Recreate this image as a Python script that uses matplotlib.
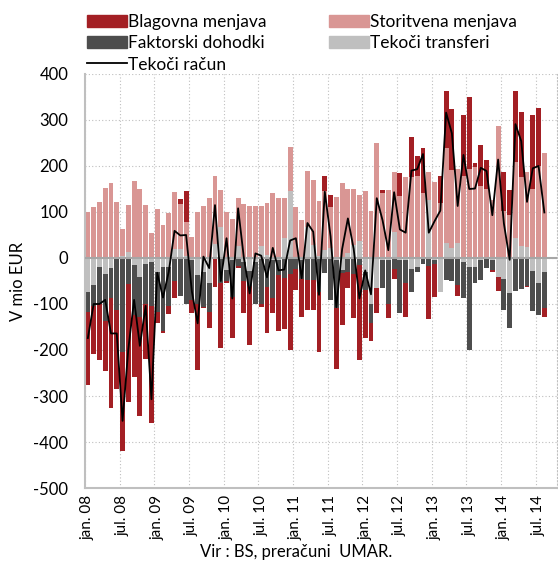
import numpy as np
import matplotlib
matplotlib.use("Agg")
import matplotlib.pyplot as plt
from matplotlib.patches import Patch
from matplotlib.lines import Line2D

plt.rcParams['font.family'] = ['Lato', 'DejaVu Sans']
plt.rcParams['axes.unicode_minus'] = False

# mesečni podatki, jan. 2008 - avg. 2014 (mio EUR)
months = []
for yr in range(8, 15):
    for m in ['jan.', 'feb.', 'mar.', 'apr.', 'maj', 'jun.', 'jul.', 'avg.', 'sep.', 'okt.', 'nov.', 'dec.']:
        months.append(m + ' %02d' % yr)
months = months[:80]

transferi = [-75, -59, -19, -35, -22, -3, 5, 12, -15, -41, -14, -8,
             -30, -20, -20, 20, 20, 5, -5, -37, -30, -55, 30, 68,
             -26, -5, 26, -8, -28, -8, 26, 6, -4, -5, 44, 146,
             -3, -5, 68, 28, 5, 17, 21, -5, -26, 10, 28, 37,
             -30, -99, -66, -5, -5, 57, -4, -4, -23, -19, 0, 126,
             -5, -73, 32, 21, 33, -8, -19, -19, -5, -3, -5, -41,
             -46, -77, 43, 26, 23, -28, -55, -30]
faktorski = [-43, -45, -81, -101, -65, -111, -205, -57, -110, -88, -86, -96,
             -88, -138, -84, -49, -82, -99, -86, -62, -76, -62, 0, -55,
             -25, -79, -17, -43, -32, -91, -99, -62, -84, -32, -44, -35,
             -22, -41, -48, -48, -73, -33, -91, -104, -7, -30, -35, -15,
             -40, -43, 0, -61, -94, -25, -116, -51, -52, -11, -13, -17,
             -7, -2, -48, -51, -59, -80, -180, -35, -43, -19, -21, 0,
             -67, -76, -72, -67, -61, -87, -69, -78]
storitvena = [101, 110, 122, 152, 162, 122, 58, 104, 168, 150, 116, 54,
              107, 72, 97, 123, 97, 74, 46, 99, 114, 130, 148, 80,
              99, 84, 104, 117, 112, 112, 86, 114, 142, 130, 86, 95,
              110, 83, 122, 142, 119, 129, 89, 133, 164, 141, 123, 99,
              146, 102, 251, 141, 148, 131, 135, 175, 177, 178, 141, 61,
              166, 120, 208, 170, 160, 179, 193, 197, 157, 151, 125, 286,
              102, 93, 166, 149, 164, 149, 199, 228]
blagovna = [-158, -105, -121, -109, -238, -171, -214, -257, -133, -214, -120, -255,
            -24, -5, -18, -37, 11, 66, -28, -144, -3, -36, -62, -141,
            -3, -91, -5, -68, -129, -1, -7, -100, -31, -122, -111, -166,
            -45, -82, -65, -64, -131, 32, 28, -133, -113, -36, -96, -207,
            -105, -38, -54, 7, -32, -21, 49, -73, 87, 44, 98, -116,
            -72, 58, 122, 132, -24, 132, 156, 9, 89, 62, -4, -31,
            86, 55, 153, 142, -3, 162, 126, -20]
tekoci_racun = [-174, -100, -100, -91, -164, -164, -354, -198, -91, -191, -104, -307,
                -32, -86, -30, 59, 49, 50, -73, -142, 3, -22, 115, -50,
                43, -88, 108, 0, -77, 10, 5, -42, 22, -27, -25, 38,
                43, -44, 76, 57, -80, 144, 47, -107, 19, 86, 20, -88,
                -27, -79, 130, 82, 17, 143, 62, 55, 190, 193, 226, 55,
                80, 103, 316, 271, 113, 224, 150, 151, 196, 189, 93, 214,
                75, -4, 291, 254, 122, 195, 200, 99]

c_blag = '#a31f24'
c_stor = '#d99694'
c_fakt = '#4d4d4d'
c_tran = '#bfbfbf'

fig = plt.figure(figsize=(5.58, 5.63), dpi=100)
ax = fig.add_axes([0.1523, 0.1332, 0.846, 0.7354])

x = np.arange(len(months))
pos_bottom = np.zeros(len(x))
neg_bottom = np.zeros(len(x))
# vrstni red zlaganja od ničle navzven
for vals, col in [(transferi, c_tran), (faktorski, c_fakt), (storitvena, c_stor), (blagovna, c_blag)]:
    v = np.array(vals, dtype=float)
    p = np.clip(v, 0, None)
    n = np.clip(v, None, 0)
    ax.bar(x, p, bottom=pos_bottom, width=0.86, color=col, zorder=2)
    ax.bar(x, n, bottom=neg_bottom, width=0.86, color=col, zorder=2)
    pos_bottom += p
    neg_bottom += n

ax.plot(x, tekoci_racun, color='black', lw=1.3, zorder=4)
ax.axhline(0, color='#a6a6a6', lw=1.5, zorder=3)

ax.set_ylim(-500, 400)
ax.set_yticks(np.arange(-500, 401, 100))
ax.set_xlim(-0.5, 81.2)
tick_pos = np.arange(0, 80, 6)
ax.set_xticks(tick_pos)
ax.set_xticklabels([months[i] for i in tick_pos], rotation=90)
for t in tick_pos:
    ax.axvline(t - 0.5, color='#bfbfbf', lw=0.8, ls=(0, (1, 2)), zorder=1)
ax.grid(axis='y', color='#bfbfbf', lw=0.8, ls=(0, (1, 2)), zorder=1)
ax.tick_params(length=0)
ax.tick_params(axis='y', pad=12, labelsize=12)
ax.tick_params(axis='x', pad=5, labelsize=11)

ax.spines['top'].set_visible(False)
ax.spines['right'].set_color('#bfbfbf')
ax.spines['right'].set_linestyle((0, (1, 2)))
ax.spines['left'].set_color('#bfbfbf')
ax.spines['bottom'].set_color('#bfbfbf')
ax.spines['left'].set_linewidth(1.5)
ax.spines['bottom'].set_linewidth(1.5)

ax.set_ylabel('V mio EUR', fontsize=12, labelpad=5)
fig.text(0.53, 0.019, 'Vir : BS, preračuni  UMAR.', ha='center', va='center', fontsize=12)

handles = [Patch(color=c_blag), Patch(color=c_fakt), Line2D([], [], color='black', lw=1.3),
           Patch(color=c_stor), Patch(color=c_tran)]
labels = ['Blagovna menjava', 'Faktorski dohodki', 'Tekoči račun',
          'Storitvena menjava', 'Tekoči transferi']
fig.legend(handles, labels, ncol=2, loc='upper left', bbox_to_anchor=(0.133, 0.998),
           frameon=False, fontsize=12.5, handlelength=2.3, handleheight=0.7,
           handletextpad=0.05, columnspacing=3.6, labelspacing=0.3, borderpad=0.25)

fig.savefig('out.png', dpi=100)
